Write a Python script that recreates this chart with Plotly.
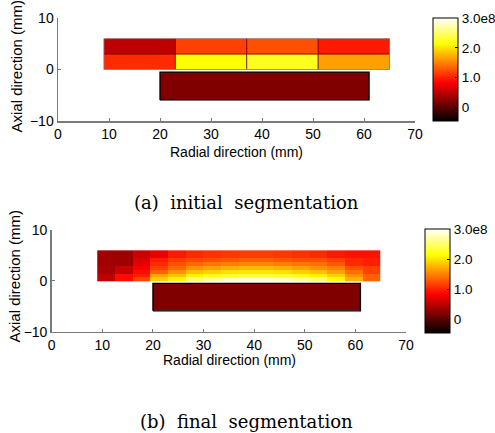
import plotly.graph_objects as go

W, H = 495, 433

# ---------------- data (values in units of 1e8) ----------------
# (a) initial segmentation: 4 x 2 cells
init_x_edges = [9, 23, 37, 51, 65]
init_y_edges = [0, 3, 6]
init_values = [
    [1.06, 2.14, 2.24, 1.65],   # y 0..3
    [0.52, 1.17, 1.25, 0.97],   # y 3..6
]

# lower block (same in both panels)
block_x_edges = [20, 61]
block_y_edges = [-5.9, -0.5]
block_value = [[0.20]]

# (b) final segmentation: 16 columns x 8 rows (rows listed top -> bottom)
final_x_edges = [9, 12.5, 16, 19.5, 23, 26.5, 30, 33.5, 37, 40.5, 44, 47.5, 51, 54.5, 58, 61.5, 65]
final_y_edges = [0, 0.75, 1.5, 2.25, 3, 3.75, 4.5, 5.25, 6]
final_rows_top_down = [
    [0.36, 0.36, 0.585, 0.74, 0.966, 1.05, 1.09, 1.13, 1.15, 1.15, 1.13, 1.09, 1.05, 0.966, 0.925, 0.925],
    [0.36, 0.36, 0.585, 0.74, 0.966, 1.05, 1.09, 1.13, 1.15, 1.15, 1.13, 1.09, 1.05, 0.966, 0.925, 0.925],
    [0.36, 0.36, 0.67, 0.98, 1.15, 1.21, 1.25, 1.29, 1.33, 1.33, 1.29, 1.25, 1.25, 1.17, 1.05, 1.00],
    [0.36, 0.36, 0.72, 1.05, 1.25, 1.37, 1.45, 1.49, 1.53, 1.53, 1.49, 1.45, 1.41, 1.29, 1.05, 1.00],
    [0.40, 0.56, 0.80, 1.17, 1.37, 1.575, 1.66, 1.74, 1.78, 1.78, 1.74, 1.66, 1.575, 1.49, 1.25, 1.17],
    [0.40, 0.56, 0.90, 1.33, 1.58, 1.82, 1.90, 1.98, 2.02, 2.02, 1.98, 1.90, 1.82, 1.66, 1.41, 1.17],
    [0.52, 0.905, 1.00, 1.66, 1.82, 2.06, 2.19, 2.30, 2.35, 2.35, 2.30, 2.19, 2.06, 1.90, 1.575, 1.33],
    [0.52, 0.905, 1.20, 1.90, 2.10, 2.50, 2.68, 2.79, 2.84, 2.84, 2.79, 2.68, 2.50, 2.15, 1.74, 1.33],
]

cb_tickvals = [0, 1, 2, 3]
cb_ticktext = ["0", "1.0", "2.0", "3.0e8"]
z_min, z_max = -0.45, 3.0

x_ticks = [0, 10, 20, 30, 40, 50, 60, 70]
y_ticks = [-10, 0, 10]

# ---------------- styling ----------------
hot = [[0, "rgb(0,0,0)"], [0.375, "rgb(255,0,0)"], [0.75, "rgb(255,255,0)"], [1, "rgb(255,255,255)"]]
FONT = "Liberation Sans, Arial, sans-serif"


def px(x):
    return x / W


def py(y):
    return 1 - y / H


def cbar(x_left, y_top, y_bot):
    return dict(
        x=px(x_left), xanchor="left", xref="paper",
        y=py((y_top + y_bot) / 2), yanchor="middle", yref="paper",
        len=(y_bot - y_top) / H, lenmode="fraction",
        thickness=25, thicknessmode="pixels",
        outlinecolor="black", outlinewidth=1,
        tickvals=cb_tickvals, ticktext=cb_ticktext,
        ticks="inside", ticklen=3, tickcolor="black",
        tickfont=dict(family=FONT, size=13.5, color="black"),
        xpad=0, ypad=0,
    )


fig = go.Figure()

# panel (a)
fig.add_trace(go.Heatmap(
    x=init_x_edges, y=init_y_edges, z=init_values,
    colorscale=hot, zmin=z_min, zmax=z_max,
    colorbar=cbar(433, 18, 121), xaxis="x", yaxis="y", hoverinfo="skip",
))
fig.add_trace(go.Heatmap(
    x=block_x_edges, y=block_y_edges, z=block_value,
    colorscale=hot, zmin=z_min, zmax=z_max, showscale=False,
    xaxis="x", yaxis="y", hoverinfo="skip",
))
# cell borders of panel (a)
for xe in init_x_edges[1:-1]:
    fig.add_trace(go.Scatter(x=[xe, xe], y=[init_y_edges[0], init_y_edges[-1]], mode="lines",
                             line=dict(color="rgba(110,0,0,0.9)", width=1), showlegend=False,
                             xaxis="x", yaxis="y", hoverinfo="skip"))
fig.add_trace(go.Scatter(x=[init_x_edges[0], init_x_edges[-1]], y=[init_y_edges[1]] * 2, mode="lines",
                         line=dict(color="rgba(110,0,0,0.9)", width=1), showlegend=False,
                         xaxis="x", yaxis="y", hoverinfo="skip"))
x0, x1 = init_x_edges[0], init_x_edges[-1]
y0, y1 = init_y_edges[0], init_y_edges[-1]
fig.add_trace(go.Scatter(x=[x0, x1, x1, x0, x0], y=[y0, y0, y1, y1, y0], mode="lines",
                         line=dict(color="rgba(150,120,120,0.8)", width=1), showlegend=False,
                         xaxis="x", yaxis="y", hoverinfo="skip"))

# panel (b)
fig.add_trace(go.Heatmap(
    x=final_x_edges, y=final_y_edges, z=final_rows_top_down[::-1],
    colorscale=hot, zmin=z_min, zmax=z_max,
    colorbar=cbar(425, 229, 333), xaxis="x2", yaxis="y2", hoverinfo="skip",
))
fig.add_trace(go.Heatmap(
    x=block_x_edges, y=block_y_edges, z=block_value,
    colorscale=hot, zmin=z_min, zmax=z_max, showscale=False,
    xaxis="x2", yaxis="y2", hoverinfo="skip",
))

# black outlines of the lower block
bx0, bx1 = block_x_edges
by0, by1 = block_y_edges
for xa, ya in (("x", "y"), ("x2", "y2")):
    fig.add_trace(go.Scatter(x=[bx0, bx1, bx1, bx0, bx0], y=[by0, by0, by1, by1, by0], mode="lines",
                             line=dict(color="black", width=1.3), showlegend=False,
                             xaxis=xa, yaxis=ya, hoverinfo="skip"))

axis_common = dict(
    showgrid=False, zeroline=False, showline=True, linecolor="#7a7a7a", linewidth=1.5,
    ticks="inside", ticklen=3, tickcolor="#7a7a7a", tickwidth=1, automargin=False,
    tickfont=dict(family=FONT, size=14, color="black"),
)

fig.update_layout(
    width=W, height=H, autosize=False,
    margin=dict(l=0, r=0, t=0, b=0, pad=0, autoexpand=False),
    paper_bgcolor="white", plot_bgcolor="white",
    showlegend=False,
    xaxis=dict(domain=[px(58), px(415)], range=[0, 70], tickvals=x_ticks, anchor="y", **axis_common),
    yaxis=dict(domain=[py(121), py(18)], range=[-10, 10], tickvals=y_ticks, anchor="x", **axis_common),
    xaxis2=dict(domain=[px(51.7), px(406)], range=[0, 70], tickvals=x_ticks, anchor="y2", **axis_common),
    yaxis2=dict(domain=[py(331.7), py(230)], range=[-10, 10], tickvals=y_ticks, anchor="x2", **axis_common),
)

ann = []
def add_text(text, x, y, size, angle=0, family=FONT):
    ann.append(dict(text=text, x=px(x), y=py(y), xref="paper", yref="paper",
                    xanchor="center", yanchor="middle", showarrow=False, textangle=angle,
                    font=dict(family=family, size=size, color="black")))

add_text("Axial direction (mm)", 16, 66.5, 15, angle=-90)
add_text("Axial direction (mm)", 14, 276.5, 15, angle=-90)
add_text("Radial direction (mm)", 236, 152, 14)
add_text("Radial direction (mm)", 229, 360, 14)
SERIF = "DejaVu Serif, Liberation Serif, serif"
add_text("(a)&nbsp;&nbsp;initial&nbsp;&nbsp;segmentation", 246, 202, 18, family=SERIF)
add_text("(b)&nbsp;&nbsp;final&nbsp;&nbsp;segmentation", 246, 421, 18, family=SERIF)
fig.update_layout(annotations=ann)

fig.write_html(
    "out.html",
    config={"displayModeBar": False, "staticPlot": True},
    post_script="document.body.style.margin='0px';document.body.style.overflow='hidden';",
)
